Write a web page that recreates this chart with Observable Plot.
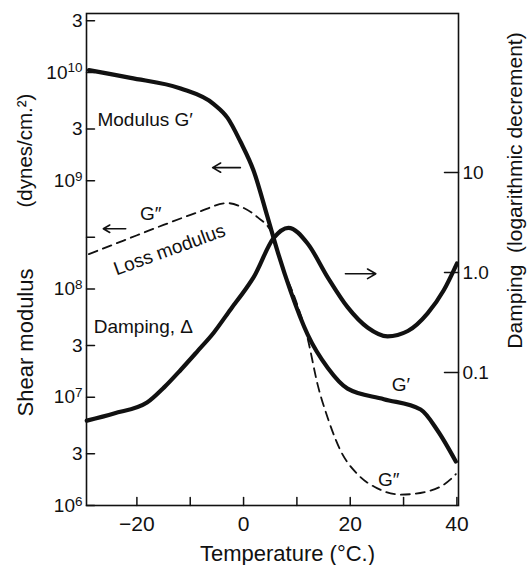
<!DOCTYPE html>
<html><head><meta charset="utf-8">
<script src="https://cdn.jsdelivr.net/npm/d3@7"></script>
<script src="https://cdn.jsdelivr.net/npm/@observablehq/plot@0.6"></script>
<style>
body{margin:0;background:#fff;}
#chart{position:relative;width:528px;height:565px;}
#chart svg{position:absolute;left:0;top:0;}
</style>
</head><body><div id="chart"></div>
<script>
// Storage modulus G' (dynes/cm^2) vs temperature (°C)
const temperatureStorage = [-29, -21.2, -11.8, -5.6, -3.0, -0.6, 1.9, 4.5, 6.4, 8.8, 12.0, 15.8, 19.5, 26.3, 33.2, 36.4, 39.8];
const storageModulus = [1.05e10, 8.9e9, 7.1e9, 5.1e9, 3.8e9, 2.3e9, 1.23e9, 4.6e8, 2.2e8, 9.6e7, 3.8e7, 1.86e7, 1.2e7, 9.6e6, 7.7e6, 4.9e6, 2.55e6];
// Loss modulus G''
const temperatureLoss = [-29, -22.5, -15.0, -8.6, -3.0, 0, 2.6, 5.4, 6.9, 9.8, 12.0, 13.9, 15.8, 18.2, 21.4, 25.1, 29.5, 34.5, 38.8, 39.8];
const lossModulus = [2.1e8, 2.8e8, 3.9e8, 5.1e8, 6.2e8, 5.6e8, 4.6e8, 3.2e8, 1.8e8, 7.8e7, 3.5e7, 1.3e7, 6.4e6, 3.2e6, 1.94e6, 1.44e6, 1.26e6, 1.35e6, 1.74e6, 1.95e6];
// Damping (logarithmic decrement)
const temperatureDamping = [-29.4, -24.3, -18.1, -14.9, -11.8, -8.7, -5.6, -2.4, 0.7, 1.9, 5.6, 8.4, 12.0, 15.8, 19.5, 23.3, 27.0, 30.8, 34.5, 37.5, 40.0];
const damping = [0.033, 0.039, 0.050, 0.071, 0.106, 0.162, 0.25, 0.43, 0.72, 0.9, 2.2, 2.8, 1.95, 0.89, 0.45, 0.28, 0.23, 0.26, 0.39, 0.66, 1.23];

const modulusTicks = [3e10, 1e10, 3e9, 1e9, 3e8, 1e8, 3e7, 1e7, 3e6, 1e6];
const modulusTickLabels = ["3", "10^10", "3", "10^9", "", "10^8", "3", "10^7", "3", "10^6"];
const dampingTicks = [0.1, 1, 10];
const dampingTickLabels = ["0.1", "1.0", "10"];
const temperatureTicks = [-20, -10, 0, 10, 20, 30, 40];
const temperatureTickLabels = ["−20", "", "0", "", "20", "", "40"];

const labelTexts = ["Modulus G′", "G″", "Loss modulus", "Damping, Δ", "G′", "G″"];
const labelTemperature = [-27.4, -17.4, -13.9, -28.1, 29.5, 27.2];
const labelModulus = [3.67e9, 4.9e8, 2.3e8, 4.5e7, 1.29e7, 1.74e6];
const labelAnchor = ["start", "middle", "middle", "start", "middle", "middle"];
const labelRotate = [0, 0, -20, 0, 0, 0];

const arrowT1 = [-0.6, -22.1, 19.1];
const arrowT2 = [-5.8, -26.3, 24.8];
const arrowModulus = [1.32e9, 3.6e8, 1.38e8];

const W = 528, H = 565;
const margins = {marginTop: 13, marginRight: 70, marginBottom: 60, marginLeft: 86};
const xDomain = [-29.45, 40.3];
const font = "'Liberation Sans', Arial, Helvetica, sans-serif";
const ink = "#111";
const tickShape = {draw(context, l) { context.moveTo(0, 0); context.lineTo(0, -l); }};

const gp = temperatureStorage.map((t, i) => ({t, v: storageModulus[i]}));
const gpp = temperatureLoss.map((t, i) => ({t, v: lossModulus[i]}));
const dmp = temperatureDamping.map((t, i) => ({t, v: damping[i]}));
const labels = labelTexts.map((s, i) => ({s, t: labelTemperature[i], v: labelModulus[i], a: labelAnchor[i], r: labelRotate[i]}));
const arrows = arrowT1.map((t1, i) => ({t1, t2: arrowT2[i], v: arrowModulus[i]}));
const modTickData = modulusTicks.map((v, i) => ({v, s: modulusTickLabels[i]}));
const tempTickData = temperatureTicks.map((v, i) => ({v, s: temperatureTickLabels[i]}));
const dampTickData = dampingTicks.map((v, i) => ({v, s: dampingTickLabels[i]}));

const plot1 = Plot.plot({
  width: W, height: H, ...margins,
  x: {domain: xDomain, axis: null},
  y: {type: "log", domain: [1e6, 3.5e10], axis: null},
  style: {fontFamily: font, fontSize: "18px", color: ink, background: "transparent"},
  marks: [
    Plot.frame({stroke: ink, strokeWidth: 1.6}),
    // left ticks (pointing inward) and labels
    Plot.vector(modTickData, {y: "v", frameAnchor: "left", rotate: 90, length: 8, anchor: "start", shape: tickShape, stroke: ink, strokeWidth: 1.5}),
    Plot.text(modTickData, {y: "v", text: "s", frameAnchor: "left", textAnchor: "end", dx: -4, fontSize: 19, fill: ink}),
    // bottom ticks (pointing inward) and labels
    Plot.vector(tempTickData, {x: "v", frameAnchor: "bottom", rotate: 0, length: 8, anchor: "start", shape: tickShape, stroke: ink, strokeWidth: 1.5}),
    Plot.text(tempTickData, {x: "v", text: "s", frameAnchor: "bottom", lineAnchor: "top", dy: 11, fontSize: 21, fill: ink}),
    Plot.line(gp, {x: "t", y: "v", stroke: ink, strokeWidth: 4.2, curve: "monotone-x"}),
    Plot.line(gpp, {x: "t", y: "v", stroke: ink, strokeWidth: 1.8, strokeDasharray: "9,6", curve: "monotone-x"}),
    Plot.arrow(arrows, {x1: "t1", x2: "t2", y1: "v", y2: "v", stroke: ink, strokeWidth: 1.6, headLength: 9}),
    Plot.text(labels.filter(d => d.a === "start"), {x: "t", y: "v", text: "s", textAnchor: "start", rotate: "r", fontSize: 19, fill: ink}),
    Plot.text(labels.filter(d => d.a === "middle"), {x: "t", y: "v", text: "s", textAnchor: "middle", rotate: "r", fontSize: 19, fill: ink}),
    Plot.text(["(dynes/cm.²)"], {text: d => d, frameAnchor: "left", textAnchor: "middle", lineAnchor: "middle", dx: -61, dy: -109, rotate: -90, fontSize: 20.5, fill: ink}),
    Plot.text(["Shear modulus"], {text: d => d, frameAnchor: "left", textAnchor: "middle", lineAnchor: "middle", dx: -61, dy: 83, rotate: -90, fontSize: 22, fill: ink}),
    Plot.text(["Temperature (°C.)"], {text: d => d, frameAnchor: "bottom", textAnchor: "middle", lineAnchor: "middle", dx: 15, dy: 48, fontSize: 22, fill: ink}),
    Plot.text(["Damping  (logarithmic decrement)"], {text: d => d, frameAnchor: "right", textAnchor: "middle", lineAnchor: "middle", dx: 57, dy: -69, rotate: -90, fontSize: 21, fill: ink})
  ]
});

const plot2 = Plot.plot({
  width: W, height: H, ...margins,
  x: {domain: xDomain, axis: null},
  y: {type: "log", domain: [Math.pow(10, -2.33), Math.pow(10, 2.59)], axis: null},
  style: {fontFamily: font, fontSize: "19px", color: ink, background: "transparent"},
  marks: [
    Plot.vector(dampTickData, {y: "v", frameAnchor: "right", rotate: -90, length: 14, anchor: "start", shape: tickShape, stroke: ink, strokeWidth: 1.5}),
    Plot.text(dampTickData, {y: "v", text: "s", frameAnchor: "right", textAnchor: "start", dx: 4, fontSize: 19, fill: ink}),
    Plot.line(dmp, {x: "t", y: "v", stroke: ink, strokeWidth: 4.2, curve: "monotone-x"})
  ]
});

const host = document.getElementById("chart");
host.append(plot1, plot2);

// render 10^n tick labels with superscript exponents
d3.select(plot1).selectAll("text").each(function() {
  const s = this.textContent;
  if (s.includes("^")) {
    const [base, exp] = s.split("^");
    const el = d3.select(this);
    el.text(null);
    el.append("tspan").text(base);
    el.append("tspan").attr("dy", "-0.45em").attr("font-size", "13.5px").text(exp);
  }
});
</script>
</body></html>
